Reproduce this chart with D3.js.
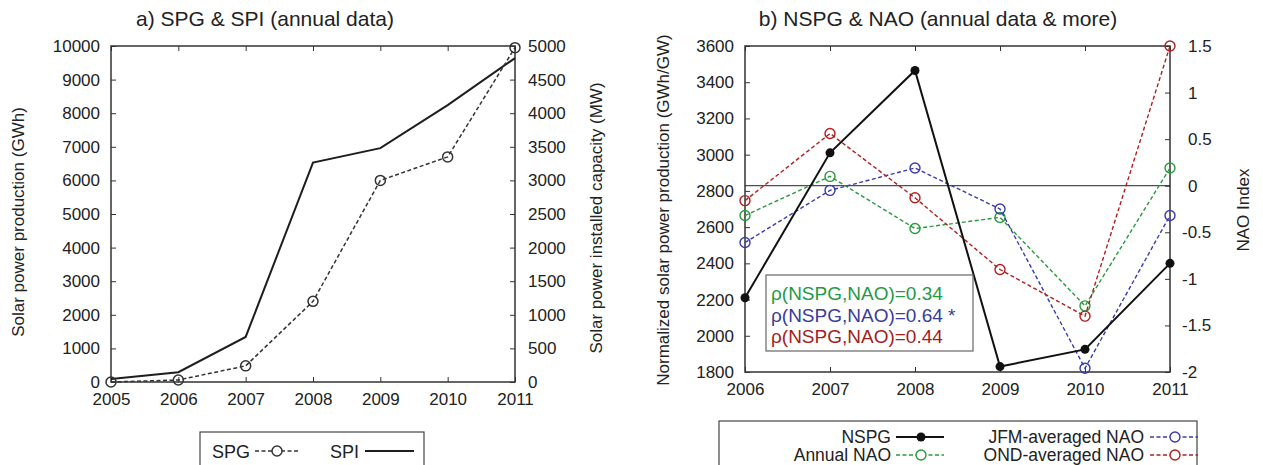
<!DOCTYPE html>
<html lang="en">
<head>
<meta charset="utf-8">
<title>SPG &amp; SPI / NSPG &amp; NAO</title>
<script src="https://d3js.org/d3.v7.min.js"></script>
<style>
  body { margin: 0; background: #fff; }
  svg text { font-family: "Liberation Sans", Arial, sans-serif; fill: #222; }
</style>
</head>
<body>
<svg width="1263" height="465"></svg>
<script>
// ---- data ----
var yearsA = [2005, 2006, 2007, 2008, 2009, 2010, 2011];
var spg = [0, 60, 480, 2400, 6000, 6700, 9950];        // GWh
var spi = [45, 145, 670, 3265, 3480, 4120, 4820];       // MW

var yearsB = [2006, 2007, 2008, 2009, 2010, 2011];
var nspg = [2210, 3010, 3465, 1830, 1925, 2400];        // GWh/GW
var naoAnnual = [-0.32, 0.10, -0.46, -0.34, -1.29, 0.19];
var naoJFM = [-0.61, -0.05, 0.19, -0.25, -1.96, -0.32];
var naoOND = [-0.16, 0.56, -0.13, -0.90, -1.40, 1.50];

var corrLabels = ["ρ(NSPG,NAO)=0.34", "ρ(NSPG,NAO)=0.64 *", "ρ(NSPG,NAO)=0.44"];

var green = "#2a9a3e", blue = "#3a3aae", red = "#b01f1f";
var textGreen = "#1f9a45", textBlue = "#3b3b98", textRed = "#a51c1c";

var svg = d3.select("svg");

// frame + inward ticks, gnuplot style
function frame(g, x, yl, yr, w, h, xTicks, ylTicks, yrTicks, yrFmt) {
    g.append("g").attr("transform", "translate(0," + h + ")")
        .call(d3.axisBottom(x).tickValues(xTicks).tickSize(-5).tickPadding(11).tickFormat(d3.format("d")));
    g.append("g")
        .call(d3.axisTop(x).tickValues(xTicks).tickSize(-5).tickFormat(""));
    g.append("g")
        .call(d3.axisLeft(yl).tickValues(ylTicks).tickSize(-5).tickPadding(11).tickFormat(d3.format("d")));
    var r = g.append("g").attr("transform", "translate(" + w + ",0)")
        .call(d3.axisRight(yr).tickValues(yrTicks).tickSize(-5).tickPadding(13).tickFormat(yrFmt));
    g.selectAll(".domain").remove();
    g.selectAll(".tick line").attr("stroke", "#333");
    g.selectAll(".tick text").style("font-size", "17px").attr("fill", "#222");
    g.append("rect").attr("width", w).attr("height", h)
        .attr("fill", "none").attr("stroke", "#333").attr("stroke-width", 1.5);
    return r;
}

// ================= panel a =================
var A = { left: 111, top: 46, w: 404, h: 336 };
var ga = svg.append("g").attr("transform", "translate(" + A.left + "," + A.top + ")");
var xa = d3.scaleLinear().domain([2005, 2011]).range([0, A.w]);
var ya = d3.scaleLinear().domain([0, 10000]).range([A.h, 0]);
var ya2 = d3.scaleLinear().domain([0, 5000]).range([A.h, 0]);

frame(ga, xa, ya, ya2, A.w, A.h, yearsA, d3.range(0, 10001, 1000), d3.range(0, 5001, 500), d3.format("d"));

ga.append("path")
    .datum(yearsA.map(function(d, i) { return [d, spi[i]]; }))
    .attr("fill", "none").attr("stroke", "#1e1e1e").attr("stroke-width", 2)
    .attr("d", d3.line().x(function(d) { return xa(d[0]); }).y(function(d) { return ya2(d[1]); }));

ga.append("path")
    .datum(yearsA.map(function(d, i) { return [d, spg[i]]; }))
    .attr("fill", "none").attr("stroke", "#333").attr("stroke-width", 1.5)
    .attr("stroke-dasharray", "4,2.5")
    .attr("d", d3.line().x(function(d) { return xa(d[0]); }).y(function(d) { return ya(d[1]); }));

ga.selectAll("circle.spg")
    .data(yearsA.map(function(d, i) { return [d, spg[i]]; }))
    .enter().append("circle")
    .attr("cx", function(d) { return xa(d[0]); })
    .attr("cy", function(d) { return ya(d[1]); })
    .attr("r", 5).attr("fill", "none").attr("stroke", "#333").attr("stroke-width", 1.5);

svg.append("text").attr("x", 265).attr("y", 26).attr("text-anchor", "middle")
    .style("font-size", "21px").text("a) SPG & SPI (annual data)");
svg.append("text").attr("transform", "translate(18,222) rotate(-90)").attr("dy", "0.35em")
    .attr("text-anchor", "middle").style("font-size", "17px").text("Solar power production (GWh)");
svg.append("text").attr("transform", "translate(596,218) rotate(-90)").attr("dy", "0.35em")
    .attr("text-anchor", "middle").style("font-size", "17px").text("Solar power installed capacity (MW)");

// legend a
var la = svg.append("g");
la.append("rect").attr("x", 200).attr("y", 432).attr("width", 224).attr("height", 40)
    .attr("fill", "#fff").attr("stroke", "#444").attr("stroke-width", 1.2);
la.append("text").attr("x", 212).attr("y", 458).style("font-size", "18px").text("SPG");
la.append("line").attr("x1", 255).attr("x2", 299).attr("y1", 451).attr("y2", 451)
    .attr("stroke", "#333").attr("stroke-width", 1.5).attr("stroke-dasharray", "4,2.5");
la.append("circle").attr("cx", 277).attr("cy", 451).attr("r", 5)
    .attr("fill", "#fff").attr("stroke", "#333").attr("stroke-width", 1.5);
la.append("text").attr("x", 330).attr("y", 458).style("font-size", "18px").text("SPI");
la.append("line").attr("x1", 365).attr("x2", 414).attr("y1", 451).attr("y2", 451)
    .attr("stroke", "#1e1e1e").attr("stroke-width", 2);

// ================= panel b =================
var B = { left: 745, top: 46, w: 425, h: 326 };
var gb = svg.append("g").attr("transform", "translate(" + B.left + "," + B.top + ")");
var xb = d3.scaleLinear().domain([2006, 2011]).range([0, B.w]);
var yb = d3.scaleLinear().domain([1800, 3600]).range([B.h, 0]);
var yb2 = d3.scaleLinear().domain([-2, 1.5]).range([B.h, 0]);

var rAxis = frame(gb, xb, yb, yb2, B.w, B.h, yearsB, d3.range(1800, 3601, 200),
    [-2, -1.5, -1, -0.5, 0, 0.5, 1, 1.5], function(d) { return d < 0 ? "-" + Math.abs(d) : String(d); });
// minus signs hang to the left like gnuplot's
rAxis.selectAll(".tick text").attr("x", function(d) { return d < 0 ? 12 : 18; });

gb.append("line").attr("x1", 0).attr("x2", B.w).attr("y1", yb2(0)).attr("y2", yb2(0))
    .attr("stroke", "#222").attr("stroke-width", 1);

var naoSeries = [
    { vals: naoAnnual, color: green },
    { vals: naoJFM, color: blue },
    { vals: naoOND, color: red }
];
var lineB = d3.line().x(function(d) { return xb(d[0]); }).y(function(d) { return yb2(d[1]); });

naoSeries.forEach(function(s) {
    var pts = yearsB.map(function(d, i) { return [d, s.vals[i]]; });
    gb.append("path").datum(pts)
        .attr("fill", "none").attr("stroke", s.color).attr("stroke-width", 1.4)
        .attr("stroke-dasharray", "4,2.5").attr("d", lineB);
    gb.selectAll(null).data(pts).enter().append("circle")
        .attr("cx", function(d) { return xb(d[0]); })
        .attr("cy", function(d) { return yb2(d[1]); })
        .attr("r", 5).attr("fill", "none").attr("stroke", s.color).attr("stroke-width", 1.4);
});

var nspgPts = yearsB.map(function(d, i) { return [d, nspg[i]]; });
gb.append("path").datum(nspgPts)
    .attr("fill", "none").attr("stroke", "#111").attr("stroke-width", 2)
    .attr("d", d3.line().x(function(d) { return xb(d[0]); }).y(function(d) { return yb(d[1]); }));
gb.selectAll("circle.nspg").data(nspgPts).enter().append("circle")
    .attr("cx", function(d) { return xb(d[0]); })
    .attr("cy", function(d) { return yb(d[1]); })
    .attr("r", 4.5).attr("fill", "#111");

// correlation box
gb.append("rect").attr("x", 766 - B.left).attr("y", 275 - B.top).attr("width", 207).attr("height", 76)
    .attr("fill", "#fff").attr("stroke", "#666").attr("stroke-width", 1.2);
var corrColors = [textGreen, textBlue, textRed];
corrLabels.forEach(function(t, i) {
    gb.append("text").attr("x", 771 - B.left).attr("y", 300 + i * 21.5 - B.top)
        .style("font-size", "19px").attr("fill", corrColors[i]).style("fill", corrColors[i]).text(t);
});

svg.append("text").attr("x", 938).attr("y", 26).attr("text-anchor", "middle")
    .style("font-size", "21px").text("b) NSPG & NAO (annual data & more)");
svg.append("text").attr("transform", "translate(663,210) rotate(-90)").attr("dy", "0.35em")
    .attr("text-anchor", "middle").style("font-size", "17px").text("Normalized solar power production (GWh/GW)");
svg.append("text").attr("transform", "translate(1243,210) rotate(-90)").attr("dy", "0.35em")
    .attr("text-anchor", "middle").style("font-size", "17px").text("NAO Index");

// legend b
var lb = svg.append("g");
lb.append("rect").attr("x", 719).attr("y", 421).attr("width", 478).attr("height", 50)
    .attr("fill", "#fff").attr("stroke", "#444").attr("stroke-width", 1.2);
var legB = [
    { label: "NSPG", color: "#111", solid: true, tx: 891, lx: 896, y: 437 },
    { label: "Annual NAO", color: green, solid: false, tx: 891, lx: 896, y: 455 },
    { label: "JFM-averaged NAO", color: blue, solid: false, tx: 1144, lx: 1150, y: 437 },
    { label: "OND-averaged NAO", color: red, solid: false, tx: 1144, lx: 1150, y: 455 }
];
legB.forEach(function(d) {
    lb.append("text").attr("x", d.tx).attr("y", d.y).attr("dy", "0.35em")
        .attr("text-anchor", "end").style("font-size", "17.5px").text(d.label);
    lb.append("line").attr("x1", d.lx).attr("x2", d.lx + 48).attr("y1", d.y).attr("y2", d.y)
        .attr("stroke", d.color).attr("stroke-width", d.solid ? 2 : 1.4)
        .attr("stroke-dasharray", d.solid ? null : "4,2.5");
    lb.append("circle").attr("cx", d.lx + 25).attr("cy", d.y).attr("r", d.solid ? 4.5 : 5)
        .attr("fill", d.solid ? "#111" : "#fff").attr("stroke", d.solid ? "none" : d.color)
        .attr("stroke-width", 1.4);
});
</script>
</body>
</html>
